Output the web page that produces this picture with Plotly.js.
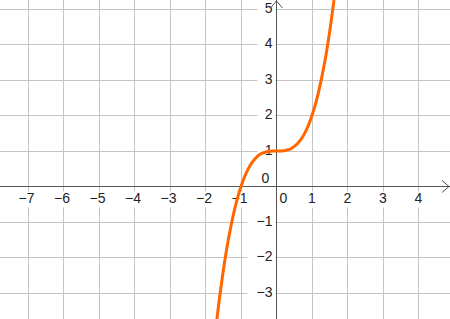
<!DOCTYPE html>
<html>
<head>
<meta charset="utf-8">
<script src="https://cdn.plot.ly/plotly-3.0.1.min.js"></script>
<style>html,body{margin:0;padding:0;background:#fff;}#chart{width:450px;height:319px;}</style>
</head>
<body>
<div id="chart"></div>
<script>
// Curve points
var curveX = [-1.72, -1.6, -1.5, -1.4, -1.3, -1.2, -1.1, -1.0, -0.9, -0.8, -0.7, -0.6, -0.5, -0.4, -0.3, -0.2, -0.1, 0, 0.1, 0.2, 0.3, 0.4, 0.5, 0.6, 0.7, 0.8, 0.9, 1.0, 1.1, 1.2, 1.3, 1.4, 1.5, 1.62];
var curveY = [-4.09, -3.10, -2.38, -1.74, -1.20, -0.73, -0.33, 0, 0.27, 0.49, 0.66, 0.78, 0.88, 0.94, 0.97, 0.99, 1.0, 1.0, 1.0, 1.01, 1.03, 1.06, 1.13, 1.22, 1.34, 1.51, 1.73, 2.0, 2.33, 2.73, 3.20, 3.74, 4.38, 5.25];

// Tick labels
var xTicks = [-7, -6, -5, -4, -3, -2, -1, 1, 2, 3, 4];
var yTicks = [-3, -2, -1, 1, 2, 3, 4, 5];

var unit = 35.5;
var x0px = 276.5, y0px = 186.5, W = 450, H = 319;
var xRange = [-x0px / unit, (W - x0px) / unit];
var yRange = [-(H - y0px) / unit, y0px / unit];
var px = function (p) { return p / unit; };

function lab(v) { return v < 0 ? '\u2212' + Math.abs(v) : String(v); }

var font = {family: 'Liberation Sans, Arial, sans-serif', size: 14, color: '#222'};
var axisColor = '#555';
var shapes = [];

// white label backgrounds (between grid and traces)
xTicks.forEach(function (v) {
  var w = v < 0 ? 22 : 12;
  shapes.push({type: 'rect', xref: 'x', yref: 'y', xsizemode: 'pixel', ysizemode: 'pixel',
    xanchor: v, yanchor: 0, x0: -w / 2 - 1, x1: w / 2 - 1, y0: -5, y1: -21,
    fillcolor: '#fff', line: {width: 0}, layer: 'between'});
});
yTicks.forEach(function (v) {
  var w = v < 0 ? 22 : 12;
  shapes.push({type: 'rect', xref: 'x', yref: 'y', xsizemode: 'pixel', ysizemode: 'pixel',
    xanchor: 0, yanchor: v, x0: -1, x1: -1 - w - 6, y0: -8, y1: 8,
    fillcolor: '#fff', line: {width: 0}, layer: 'between'});
});
shapes.push({type: 'rect', xref: 'x', yref: 'y', xsizemode: 'pixel', ysizemode: 'pixel',
  xanchor: 0, yanchor: 0, x0: 1, x1: 13, y0: -5, y1: -21, fillcolor: '#fff', line: {width: 0}, layer: 'between'});
shapes.push({type: 'rect', xref: 'x', yref: 'y', xsizemode: 'pixel', ysizemode: 'pixel',
  xanchor: 0, yanchor: 0, x0: -5, x1: -17, y0: 2, y1: 14, fillcolor: '#fff', line: {width: 0}, layer: 'between'});

// label text traces
var xLabTrace = {type: 'scatter', mode: 'text', cliponaxis: false, hoverinfo: 'skip',
  x: xTicks.map(function (v) { return v + px(v < 0 ? -1.5 : 0); }).concat([px(7)]),
  y: xTicks.map(function () { return px(-13); }).concat([px(-13)]),
  text: xTicks.map(lab).concat(['0']), textposition: 'middle center', textfont: font};
var yLabTrace = {type: 'scatter', mode: 'text', cliponaxis: false, hoverinfo: 'skip',
  x: yTicks.map(function () { return px(-4); }),
  y: yTicks,
  text: yTicks.map(lab), textposition: 'middle left', textfont: font};
var zeroTrace = {type: 'scatter', mode: 'text', cliponaxis: false, hoverinfo: 'skip',
  x: [px(-11)], y: [px(7)], text: ['0'], textposition: 'middle center', textfont: font};

// axes with open arrow heads
var axisLine = {color: axisColor, width: 1};
var xAxisTrace = {type: 'scatter', mode: 'lines', hoverinfo: 'skip', line: axisLine,
  x: [xRange[0], xRange[1], null, xRange[1] - px(8), xRange[1] - px(1), xRange[1] - px(8)],
  y: [0, 0, null, px(6), 0, px(-6)]};
var yAxisTrace = {type: 'scatter', mode: 'lines', hoverinfo: 'skip', line: axisLine,
  x: [0, 0, null, px(-6), 0, px(6)],
  y: [yRange[0], yRange[1], null, yRange[1] - px(8), yRange[1] - px(1), yRange[1] - px(8)]};

var curve = {x: curveX, y: curveY, type: 'scatter', mode: 'lines',
  line: {color: '#ff6600', width: 3, shape: 'spline'}, hoverinfo: 'skip'};

var layout = {
  width: W, height: H,
  margin: {l: 0, r: 0, t: 0, b: 0, pad: 0},
  paper_bgcolor: '#fff', plot_bgcolor: '#fff',
  showlegend: false,
  xaxis: {range: xRange, dtick: 1, tick0: 0, showgrid: true, gridcolor: '#c4c4c4', gridwidth: 1,
    zeroline: false, showticklabels: false, ticks: '', fixedrange: true},
  yaxis: {range: yRange, dtick: 1, tick0: 0, showgrid: true, gridcolor: '#c4c4c4', gridwidth: 1,
    zeroline: false, showticklabels: false, ticks: '', fixedrange: true},
  shapes: shapes
};

Plotly.newPlot('chart', [xLabTrace, yLabTrace, zeroTrace, xAxisTrace, yAxisTrace, curve], layout,
  {staticPlot: true, displayModeBar: false});
</script>
</body>
</html>
